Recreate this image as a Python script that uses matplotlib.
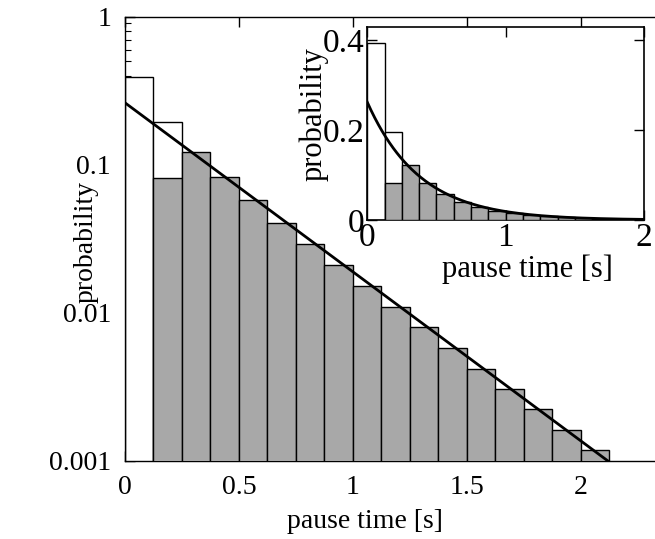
import numpy as np
import matplotlib
matplotlib.use("Agg")
import matplotlib.pyplot as plt
from matplotlib.ticker import FixedLocator, FixedFormatter, LogLocator, NullFormatter, NullLocator

plt.rcParams['font.family'] = ['Liberation Serif', 'DejaVu Serif']

# ---- data ----
bin_width = 0.125
white_bins = [0, 1]
white_vals = [0.393, 0.195]
gray_bins = list(range(1, 17))
gray_vals = [0.0817, 0.122, 0.0826, 0.0578, 0.0406, 0.0291, 0.0210, 0.0151,
             0.0110, 0.00797, 0.00577, 0.00418, 0.00306, 0.00222, 0.00161, 0.00117]
fit_amplitude = 0.262
fit_rate = 2.63

main_xticks = [0, 0.5, 1, 1.5, 2]
main_xticklabels = ["0", "0.5", "1", "1.5", "2"]
main_yticks = [0.001, 0.01, 0.1, 1]
main_yticklabels = ["0.001", "0.01", "0.1", "1"]
inset_xticks = [0, 1, 2]
inset_xticklabels = ["0", "1", "2"]
inset_yticks = [0, 0.2, 0.4]
inset_yticklabels = ["0", "0.2", "0.4"]

gray = "#a8a8a8"
fs = 20

W, H = 655, 539
fig = plt.figure(figsize=(W / 100, H / 100), dpi=100)

# ---- main axes (log) ----
ax = fig.add_axes([125 / W, (H - 460.7) / H, (672 - 125) / W, (460.7 - 16.7) / H])
wx = np.array(white_bins) * bin_width
gx = np.array(gray_bins) * bin_width
ax.bar(wx, white_vals, width=bin_width, align='edge', bottom=1e-5,
       color='white', edgecolor='black', linewidth=1.0, zorder=2)
ax.bar(gx, gray_vals, width=bin_width, align='edge', bottom=1e-5,
       color=gray, edgecolor='black', linewidth=1.0, zorder=3)
t = np.linspace(0, 2.4, 300)
ax.plot(t, fit_amplitude * np.exp(-fit_rate * t), color='black', lw=2.0, zorder=4)
ax.set_yscale('log')
ax.set_xlim(0, 2.4)
ax.set_ylim(0.001, 1)
ax.yaxis.set_major_locator(FixedLocator(main_yticks))
ax.yaxis.set_major_formatter(FixedFormatter(main_yticklabels))
ax.yaxis.set_minor_locator(LogLocator(base=10, subs=np.arange(2, 10)))
ax.yaxis.set_minor_formatter(NullFormatter())
ax.xaxis.set_major_locator(FixedLocator(main_xticks))
ax.xaxis.set_major_formatter(FixedFormatter(main_xticklabels))
ax.xaxis.set_minor_locator(NullLocator())
ax.tick_params(axis='both', which='major', direction='in', length=7, width=1,
               labelsize=fs, top=True, right=True)
ax.tick_params(axis='y', which='minor', direction='in', length=4, width=0.8, right=True)
ax.tick_params(axis='y', which='major', pad=10)
ax.tick_params(axis='x', which='major', pad=10)
for s in ax.spines.values():
    s.set_linewidth(1.0)
fig.text(86 / W, 1 - 242 / H, "probability", rotation=90, ha='center', va='center', fontsize=fs)
fig.text(365 / W, 1 - 521 / H, "pause time [s]", ha='center', va='center', fontsize=fs)

# ---- inset (linear) ----
ins = fig.add_axes([367.3 / W, (H - 220) / H, (644 - 367.3) / W, (220 - 26.7) / H])
ins.bar(wx, white_vals, width=bin_width, align='edge',
        color='white', edgecolor='black', linewidth=1.0, zorder=2)
ins.bar(gx, gray_vals, width=bin_width, align='edge',
        color=gray, edgecolor='black', linewidth=1.0, zorder=3)
t2 = np.linspace(0, 2, 300)
ins.plot(t2, fit_amplitude * np.exp(-fit_rate * t2), color='black', lw=2.0, zorder=4)
ins.set_xlim(0, 2)
ins.set_ylim(0, 0.43)
ins.xaxis.set_major_locator(FixedLocator(inset_xticks))
ins.xaxis.set_major_formatter(FixedFormatter(inset_xticklabels))
ins.yaxis.set_major_locator(FixedLocator(inset_yticks))
ins.yaxis.set_major_formatter(FixedFormatter(inset_yticklabels))
ins.tick_params(axis='both', which='major', direction='in', length=7, width=1,
                labelsize=24, top=True, right=True, pad=2)
for s in ins.spines.values():
    s.set_linewidth(1.2)
fig.text(314 / W, 1 - 114 / H, "probability", rotation=90, ha='center', va='center', fontsize=22)
fig.text(527 / W, 1 - 269 / H, "pause time [s]", ha='center', va='center', fontsize=22)

fig.savefig("out.png", dpi=100)
